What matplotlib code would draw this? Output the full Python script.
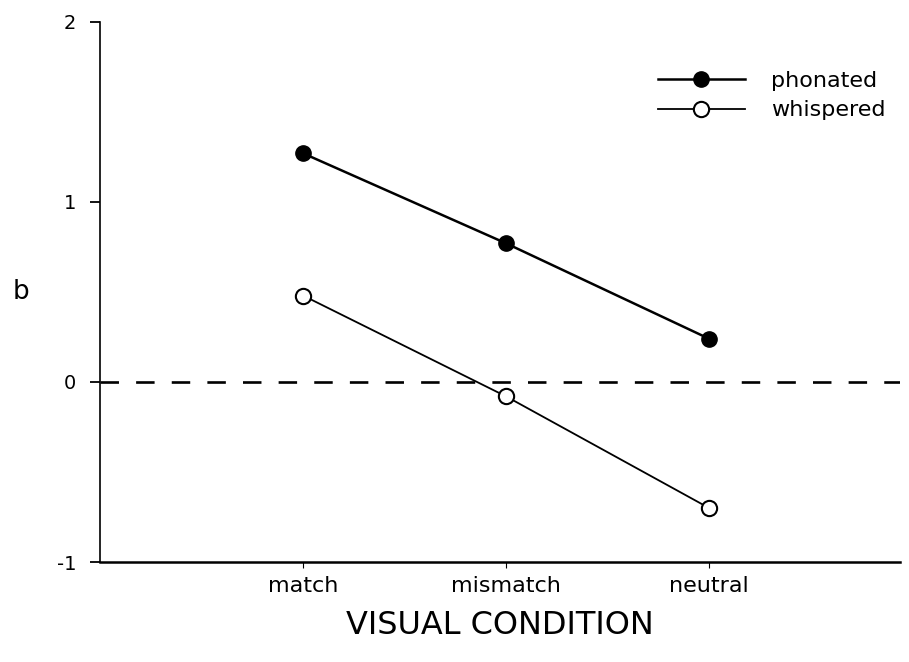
"""Regression slope b by visual condition, phonated vs whispered speech."""

import matplotlib.pyplot as plt
import numpy as np

CONDITIONS = ["match", "mismatch", "neutral"]
PHONATED = [1.27, 0.77, 0.24]
WHISPERED = [0.48, -0.08, -0.70]
Y_TICKS = [-1, 0, 1, 2]

plt.rcParams["font.family"] = ["DejaVu Sans"]

fig = plt.figure(figsize=(9.09, 6.62), dpi=100)
ax = fig.add_axes([0.110, 0.151, 0.880, 0.816])

x = np.arange(1, len(CONDITIONS) + 1)

# zero reference line
ax.axhline(0, color="black", linewidth=1.9, dashes=(7, 6.5), zorder=1)

ax.plot(x, PHONATED, color="black", linewidth=1.8, marker="o",
        markersize=11, markerfacecolor="black", markeredgecolor="black",
        label="phonated", zorder=3)
ax.plot(x, WHISPERED, color="black", linewidth=1.3, marker="o",
        markersize=11, markerfacecolor="white", markeredgecolor="black",
        markeredgewidth=1.5, label="whispered", zorder=3)

ax.set_xlim(0, 3.94)
ax.set_ylim(-1, 2)
ax.set_xticks(x)
ax.set_xticklabels(CONDITIONS, fontsize=16)
ax.set_yticks(Y_TICKS)
ax.set_yticklabels([str(t) for t in Y_TICKS], fontsize=14)
ax.tick_params(axis="y", direction="out", length=7, width=1.3, pad=10)
ax.tick_params(axis="x", direction="out", length=4, width=0.8, pad=6)

for side in ("top", "right"):
    ax.spines[side].set_visible(False)
ax.spines["left"].set_linewidth(1.2)
ax.spines["bottom"].set_linewidth(1.8)

ax.set_xlabel("VISUAL CONDITION", fontsize=23, labelpad=10)
ax.set_ylabel("b", fontsize=19, rotation=0, va="center", ha="center")
ax.yaxis.set_label_coords(-0.099, 0.5)

fig.legend(loc="upper left", bbox_to_anchor=(647 / 909, 0.910),
           frameon=False, fontsize=16, handlelength=3.9,
           handletextpad=1.2, labelspacing=0.44, borderpad=0)

fig.savefig("out.png", dpi=100)
